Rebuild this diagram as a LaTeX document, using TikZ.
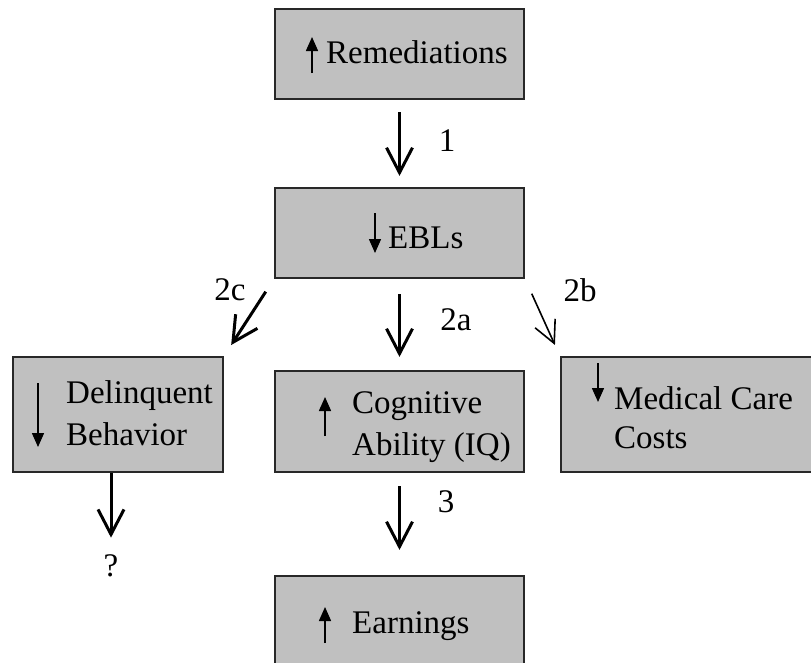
\documentclass[tikz,border=0pt]{standalone}
\usepackage{fontspec}
\setmainfont{Liberation Serif}
\usepackage{xcolor}
\usetikzlibrary{arrows.meta,positioning,calc}
\definecolor{boxgray}{RGB}{192,192,192}
\definecolor{edgegray}{RGB}{40,40,40}

\begin{document}
\begin{tikzpicture}[x=1pt, y=-1pt,
    box/.style={draw=edgegray, fill=boxgray, line width=2.2pt, inner sep=0pt},
    flow/.style={-{Straight Barb[length=25pt,width=26pt]}, line width=3pt},
    thinflow/.style={-{Straight Barb[length=22pt,width=22pt]}, line width=1.6pt},
    tag/.style={font=\fontsize{33}{40}\selectfont, inner sep=0pt},
    txt/.style={tag, anchor=base west},
    updown/.style={-{Triangle[length=14pt,width=12pt]}, line width=1.5pt}]
    \useasboundingbox (0,0) rectangle (811,662);
    \clip (0,0) rectangle (811,662);

    % boxes
    \node[box, minimum width=249pt, minimum height=90pt] (rem) at (399.5,54) {};
    \node[box, minimum width=249pt, minimum height=90pt] (ebl) at (399.5,233) {};
    \node[box, minimum width=210pt, minimum height=115pt] (del) at (118,414.5) {};
    \node[box, minimum width=249pt, minimum height=101pt] (cog) at (399.5,421.5) {};
    \node[box, minimum width=280pt, minimum height=115pt] (med) at (701,414.5) {};
    \node[box, minimum width=249pt, minimum height=120pt] (earn) at (399.5,636) {};

    % texts
    \node[txt] (remtxt) at (326,63) {Remediations};
    \node[txt] (ebltxt) at (388,248) {EBLs};
    \node[txt] (deltxt) at (66,403) {Delinquent};
    \node[txt] (behtxt) at (66,445) {Behavior};
    \node[txt] (cogtxt) at (352,413) {Cognitive};
    \node[txt] (abitxt) at (352,455) {Ability (IQ)};
    \node[txt] (medtxt) at (614,409) {Medical Care};
    \node[txt] (costxt) at (614,448) {Costs};
    \node[txt] (earntxt) at (352,633) {Earnings};

    % small arrows in the boxes
    \draw[updown] (312,73) -- (312,37);
    \draw[updown] (375,213) -- (375,253);
    \draw[updown] (38,383) -- (38,447);
    \draw[updown] (325,436) -- (325,397);
    \draw[updown] (598,363) -- (598,402);
    \draw[updown] (325,643) -- (325,607);

    % connectors
    \draw[flow, shorten <=12pt, shorten >=11pt] (rem.south) -- (ebl.north);
    \draw[flow, shorten <=15pt, shorten >=13pt] (ebl.south west) -- (del.north east);
    \draw[flow, shorten <=15pt, shorten >=13pt] (ebl.south) -- (cog.north);
    \draw[thinflow, shorten <=16pt, shorten >=12pt] (ebl.south east) -- (med.north west);
    \draw[flow, shorten <=13pt, shorten >=25pt] (cog.south) -- (earn.north);
    \node[tag] (q) at (111,566) {?};
    \draw[flow, shorten >=17pt] (q |- del.south) -- (q);

    % labels
    \node[tag] (l1) at (447,141) {1};
    \node[tag] (l2c) at (230,290) {2c};
    \node[tag] (l2a) at (456,320) {2a};
    \node[tag] (l2b) at (580,290) {2b};
    \node[tag] (l3) at (446,502) {3};
\end{tikzpicture}
\end{document}
